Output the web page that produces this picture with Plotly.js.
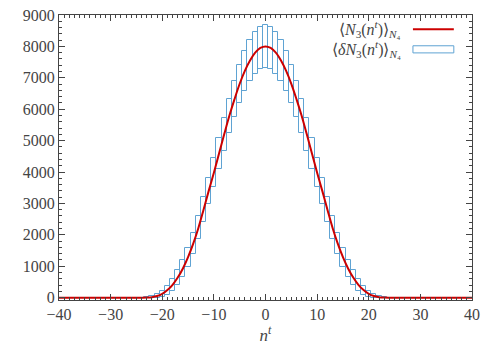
<!DOCTYPE html>
<html>
<head>
<meta charset="utf-8">
<script src="https://cdn.plot.ly/plotly-3.0.1.min.js"></script>
<style>
  html, body { margin: 0; padding: 0; background: #fff; }
  #chart { width: 500px; height: 350px; }
</style>
</head>
<body>
<div id="chart"></div>
<script>
// time slice index n^t, from -40 to 40
const nt = [];
for (let i = -40; i <= 40; i++) nt.push(i);

// <N3(n^t)> for |n^t| = 0..24 (zero beyond)
const halfMean = [8000, 7950, 7800, 7550, 7220, 6810, 6320, 5790, 5200, 4590,
  3980, 3400, 2800, 2220, 1720, 1290, 930, 640, 410, 240, 120, 50, 15, 3, 0];
// <dN3(n^t)> for |n^t| = 0..24
const halfDelta = [680, 678, 670, 650, 630, 605, 580, 550, 520, 490,
  455, 425, 395, 365, 335, 300, 265, 225, 185, 145, 105, 70, 40, 15, 0];

const meanN3 = nt.map((n) => halfMean[Math.abs(n)] || 0);
const deltaN3 = nt.map((n) => halfDelta[Math.abs(n)] || 0);

const xRange = [-40, 40];
const yRange = [-75, 9000];
const frame = "#444";
const boxBlue = "#5fa3d3";
const red = "#cc0000";

// legend texts, kept ascii in the file
const LA = "\u27E8", RA = "\u27E9", DELTA = "\u03B4", SUB4 = "\u2084";
const labelMean = LA + "<i>N</i><sub>3</sub>(<i>n<sup>t</sup></i>)" + RA + "<sub><i>N</i>" + SUB4 + "</sub>";
const labelDelta = LA + "<i>" + DELTA + "N</i><sub>3</sub>(<i>n<sup>t</sup></i>)" + RA + "<sub><i>N</i>" + SUB4 + "</sub>";

const boxes = {
  type: "bar",
  x: nt,
  base: meanN3.map((m, i) => m - deltaN3[i]),
  y: deltaN3.map((d) => 2 * d),
  width: 1,
  marker: { color: "rgba(0,0,0,0)", line: { color: boxBlue, width: 1 } },
  showlegend: false,
  hoverinfo: "skip",
};

const curve = {
  type: "scatter",
  mode: "lines",
  x: nt,
  y: meanN3,
  line: { color: red, width: 2, shape: "spline", smoothing: 1 },
  showlegend: false,
};

// empty trace so the minor-tick axes get drawn
const minorHolder = { type: "scatter", x: [], y: [], xaxis: "x2", yaxis: "y2", showlegend: false };

const layout = {
  width: 500,
  height: 350,
  margin: { l: 59, r: 28, t: 15, b: 50 },
  font: { family: "Liberation Serif", size: 16 },
  bargap: 0,
  xaxis: {
    range: xRange,
    dtick: 10,
    showgrid: false,
    zeroline: false,
    showline: true,
    linecolor: frame,
    mirror: "ticks",
    ticks: "inside",
    ticklen: 6,
    tickcolor: frame,
    tickfont: { family: "Liberation Serif", size: 16 },
    title: { text: "<i>n<sup>t</sup></i>", font: { family: "Liberation Serif", size: 17 }, standoff: 2 },
  },
  yaxis: {
    range: yRange,
    dtick: 1000,
    showgrid: false,
    zeroline: false,
    showline: true,
    linecolor: frame,
    mirror: "ticks",
    ticks: "inside",
    ticklen: 6,
    tickcolor: frame,
    tickfont: { family: "Liberation Serif", size: 16 },
  },
  xaxis2: {
    overlaying: "x",
    side: "bottom",
    range: xRange,
    dtick: 1,
    showgrid: false,
    zeroline: false,
    showline: false,
    mirror: "ticks",
    ticks: "inside",
    ticklen: 3,
    tickcolor: frame,
    showticklabels: false,
  },
  yaxis2: {
    overlaying: "y",
    side: "left",
    range: yRange,
    dtick: 200,
    showgrid: false,
    zeroline: false,
    showline: false,
    mirror: "ticks",
    ticks: "inside",
    ticklen: 3,
    tickcolor: frame,
    showticklabels: false,
  },
  annotations: [
    {
      xref: "paper", yref: "paper", x: 0.833, y: 0.95,
      xanchor: "right", yanchor: "middle", showarrow: false,
      text: labelMean,
      font: { family: "Liberation Serif", size: 16 },
    },
    {
      xref: "paper", yref: "paper", x: 0.833, y: 0.88,
      xanchor: "right", yanchor: "middle", showarrow: false,
      text: labelDelta,
      font: { family: "Liberation Serif", size: 16 },
    },
  ],
  shapes: [
    { type: "line", xref: "paper", yref: "paper", x0: 0.857, x1: 0.956, y0: 0.95, y1: 0.95,
      line: { color: red, width: 2 } },
    { type: "rect", xref: "paper", yref: "paper", x0: 0.857, x1: 0.956, y0: 0.867, y1: 0.892,
      line: { color: boxBlue, width: 1 }, fillcolor: "rgba(0,0,0,0)" },
  ],
};

Plotly.newPlot("chart", [boxes, curve, minorHolder], layout, { displayModeBar: false });
</script>
</body>
</html>
